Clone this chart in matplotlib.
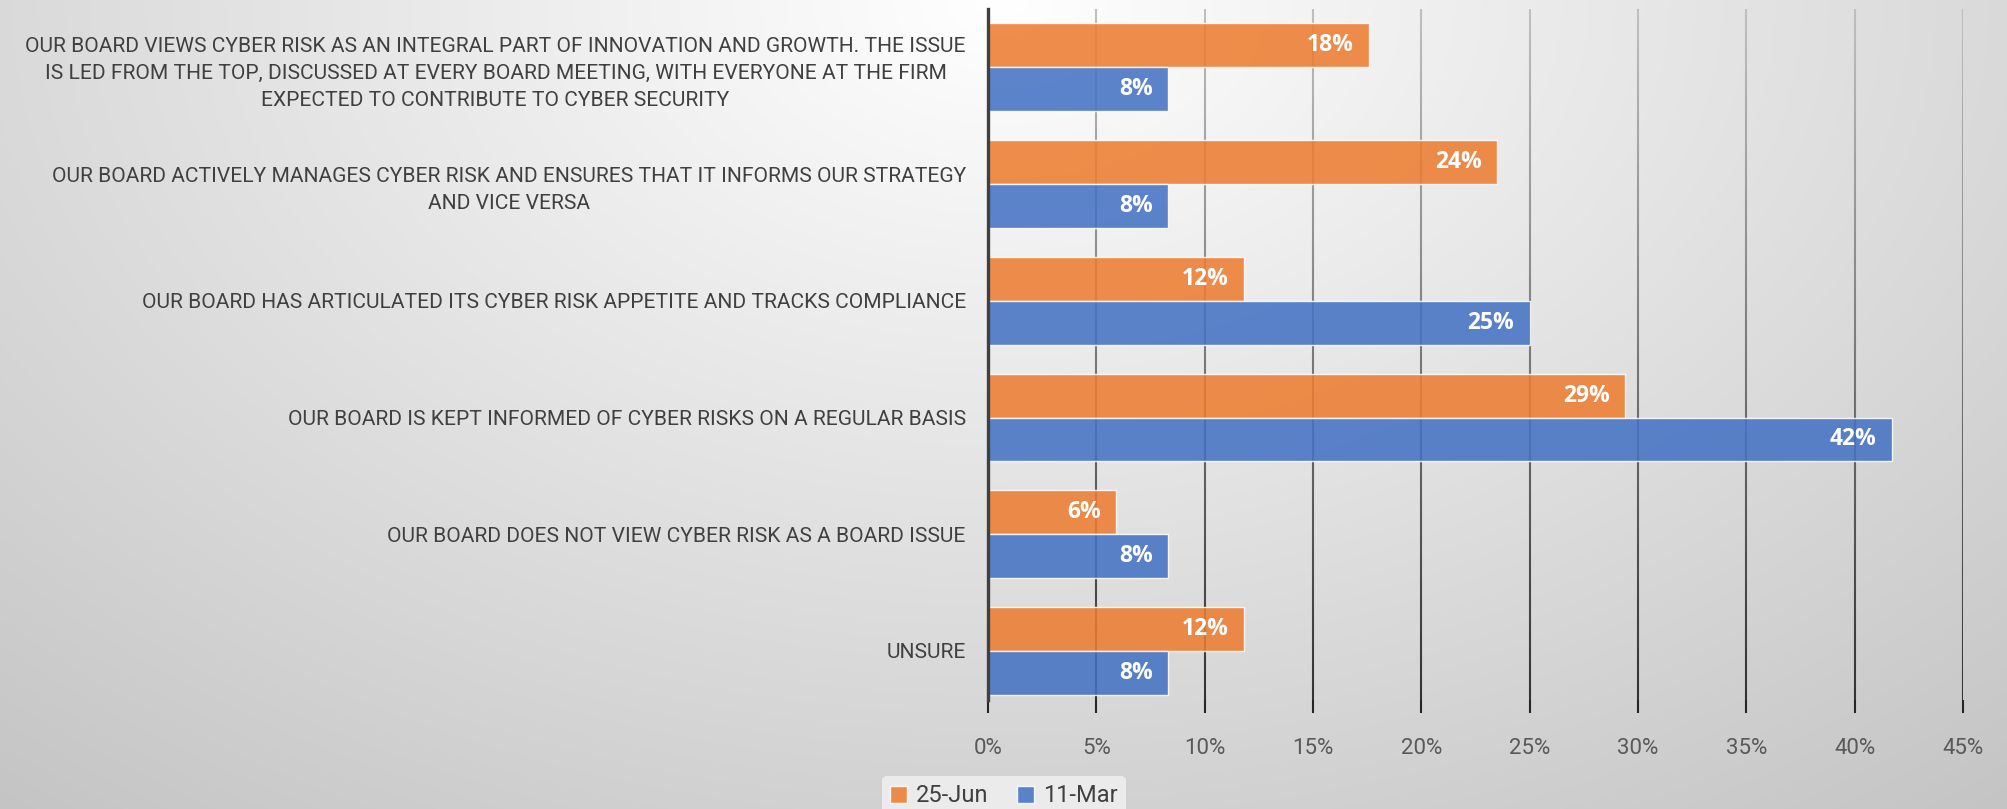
import numpy as np
import matplotlib.pyplot as plt
from matplotlib.collections import LineCollection
from matplotlib.patches import Patch

categories = [
    "OUR BOARD VIEWS CYBER RISK AS AN INTEGRAL PART OF INNOVATION AND GROWTH. THE ISSUE\n"
    "IS LED FROM THE TOP, DISCUSSED AT EVERY BOARD MEETING, WITH EVERYONE AT THE FIRM\n"
    "EXPECTED TO CONTRIBUTE TO CYBER SECURITY",
    "OUR BOARD ACTIVELY MANAGES CYBER RISK AND ENSURES THAT IT INFORMS OUR STRATEGY\n"
    "AND VICE VERSA",
    "OUR BOARD HAS ARTICULATED ITS CYBER RISK APPETITE AND TRACKS COMPLIANCE",
    "OUR BOARD IS KEPT INFORMED OF CYBER RISKS ON A REGULAR BASIS",
    "OUR BOARD DOES NOT VIEW CYBER RISK AS A BOARD ISSUE",
    "UNSURE",
]
jun_values = [17.6, 23.5, 11.8, 29.4, 5.9, 11.8]
mar_values = [8.3, 8.3, 25.0, 41.7, 8.3, 8.3]
series_names = ["25-Jun", "11-Mar"]
x_ticks = [0, 5, 10, 15, 20, 25, 30, 35, 40, 45]

orange = "#ED7D31"
blue = "#4472C4"
text_font = ["Roboto", "DejaVu Sans"]

W, H = 2008, 809
fig = plt.figure(figsize=(W / 100, H / 100), dpi=100)

# background gradient
bg = fig.add_axes([0, 0, 1, 1], zorder=-10)
yy, xx = np.mgrid[0:H, 0:W]
r = np.sqrt((xx - 1000.0) ** 2 + ((yy - 0.0) * 1.5) ** 2)
val = 255 - 55 * (r / 1470.0)
val = np.clip(val, 180, 255) / 255.0
bg.imshow(np.dstack([val, val, val]), aspect="auto", extent=[0, 1, 0, 1])
bg.axis("off")

ax = fig.add_axes([988 / W, 1 - 700 / H, (1963 - 988) / W, (700 - 9) / H])
ax.set_facecolor("none")

y = np.arange(len(categories))
h = 0.376
ax.barh(y - h / 2, jun_values, height=h, color=orange, alpha=0.87,
        edgecolor=(1, 1, 1, 0.6), linewidth=1.0, zorder=3)
ax.barh(y + h / 2, mar_values, height=h, color=blue, alpha=0.87,
        edgecolor=(1, 1, 1, 0.6), linewidth=1.0, zorder=3)

for yi, v in zip(y - h / 2, jun_values):
    ax.annotate(f"{v:.0f}%", (v, yi), xytext=(-11, 0), textcoords="offset points",
                ha="right", va="center", color="white", fontsize=16.5,
                fontweight="bold", family=["Open Sans", "DejaVu Sans"], zorder=5)
for yi, v in zip(y + h / 2, mar_values):
    ax.annotate(f"{v:.0f}%", (v, yi), xytext=(-11, 0), textcoords="offset points",
                ha="right", va="center", color="white", fontsize=16.5,
                fontweight="bold", family=["Open Sans", "DejaVu Sans"], zorder=5)

ax.set_xlim(0, 45)
ax.set_ylim(5.42, -0.5)

# gridlines fading from light (top) to dark (bottom)
y0, y1 = -0.5, 5.42
n = 80
ys = np.linspace(y0, y1, n + 1)
t = np.linspace(0, 1, n)
cols = [(0.75 - 0.55 * ti, 0.75 - 0.55 * ti, 0.75 - 0.55 * ti) for ti in t]
for xv in x_ticks[1:]:
    segs = [[(xv, ys[i]), (xv, ys[i + 1])] for i in range(n)]
    ax.add_collection(LineCollection(segs, colors=cols, linewidths=1.5, zorder=1))

ax.set_xticks(x_ticks)
ax.set_xticklabels([f"{v}%" for v in x_ticks])
ax.set_yticks(y)
ax.set_yticklabels(categories)
for lbl in ax.get_yticklabels():
    lbl.set_multialignment("center")
    lbl.set_family(text_font)
    lbl.set_fontsize(15.1)
    lbl.set_linespacing(1.55)
    lbl.set_color("#404040")
for lbl in ax.get_xticklabels():
    lbl.set_family(text_font)
    lbl.set_fontsize(16)
    lbl.set_color("#595959")

ax.tick_params(axis="y", length=0, pad=16)
ax.tick_params(axis="x", length=9, width=1.5, color="#262626", pad=18)
for s in ["top", "right", "bottom"]:
    ax.spines[s].set_visible(False)
ax.spines["left"].set_color("#404040")
ax.spines["left"].set_linewidth(2.4)
ax.spines["left"].set_zorder(4)

handles = [Patch(facecolor=orange, alpha=0.87, edgecolor=(1, 1, 1, 0.6)),
           Patch(facecolor=blue, alpha=0.87, edgecolor=(1, 1, 1, 0.6))]
leg = fig.legend(handles, series_names, loc="center", bbox_to_anchor=(1004 / W, 1 - 796 / H),
                 ncol=2, frameon=True, handlelength=0.7, handleheight=0.7,
                 handletextpad=0.4, columnspacing=1.2, borderpad=0.35,
                 prop={"family": text_font, "size": 17})
leg.get_frame().set_facecolor("#ebebeb")
leg.get_frame().set_edgecolor("none")
leg.get_frame().set_alpha(1)
for txt in leg.get_texts():
    txt.set_color("#404040")

fig.savefig("out.png", dpi=100)
